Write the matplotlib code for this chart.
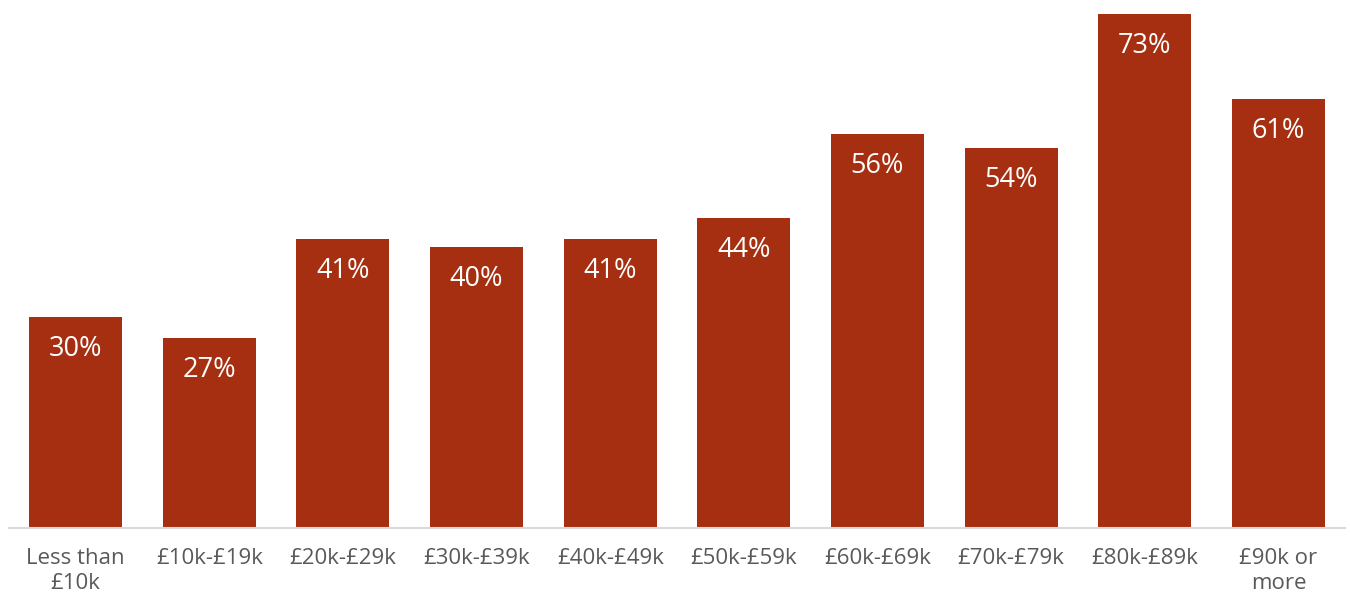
import matplotlib.pyplot as plt

plt.rcParams['font.family'] = ['Open Sans', 'DejaVu Sans']

categories = ['Less than\n£10k', '£10k-£19k', '£20k-£29k', '£30k-£39k', '£40k-£49k',
              '£50k-£59k', '£60k-£69k', '£70k-£79k', '£80k-£89k', '£90k or\nmore']
values = [30, 27, 41, 40, 41, 44, 56, 54, 73, 61]

bar_color = '#A52F10'

fig = plt.figure(figsize=(13.5, 5.94), dpi=100)
ax = fig.add_axes([0.0065, 0.111, 0.99, 0.865])

x = range(len(categories))
bars = ax.bar(x, values, width=0.695, color=bar_color)

# value labels inside the top of each bar
for rect, v in zip(bars, values):
    ax.annotate(f'{v}%', (rect.get_x() + rect.get_width() / 2, rect.get_height()),
                xytext=(0, -32), textcoords='offset pixels',
                ha='center', va='center', color='white', fontsize=19.5)

ax.set_xlim(-0.5, len(categories) - 0.5)
ax.set_ylim(0, max(values))
ax.set_xticks(list(x))
ax.set_xticklabels(categories, fontsize=16, color='#595959', linespacing=1.25)
ax.tick_params(axis='x', length=0, pad=14)
ax.set_yticks([])

for side in ['top', 'right', 'left']:
    ax.spines[side].set_visible(False)
ax.spines['bottom'].set_color('#d9d9d9')
ax.spines['bottom'].set_linewidth(1.5)

fig.savefig('out.png', dpi=100)
